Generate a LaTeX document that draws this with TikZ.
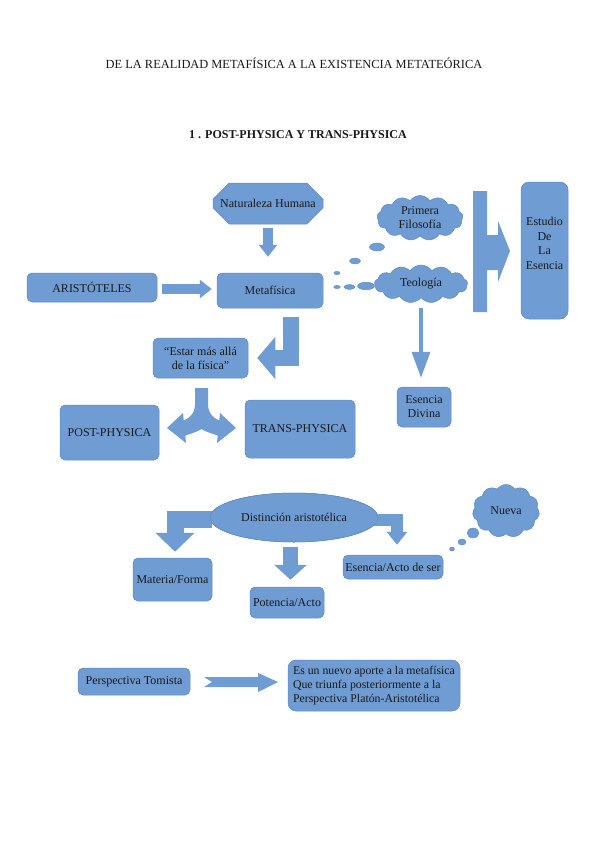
\documentclass[tikz,border=0pt]{standalone}
\usepackage{fontspec}
\setmainfont{Liberation Serif}
\usetikzlibrary{shapes.symbols,shapes.misc,shapes.geometric,arrows.meta,calc}
\definecolor{blu}{RGB}{111,156,211}
\definecolor{blub}{RGB}{92,138,198}
\definecolor{txt}{RGB}{25,25,25}
\begin{document}
\begin{tikzpicture}[x=1pt,y=-1pt,
  box/.style={rectangle, rounded corners=5pt, fill=blu, draw=blub, line width=0.5pt,
    inner sep=0pt, align=center, font=\fontsize{12}{14}\selectfont, text=txt},
  cloudn/.style={cloud, cloud puffs=13, cloud puff arc=110, cloud ignores aspect, fill=blu, draw=blub,
    line width=0.5pt, inner sep=0pt, align=center, font=\fontsize{12}{14}\selectfont, text=txt},
  bubble/.style={fill=blu, draw=blub, line width=0.4pt},
  barrow/.style={draw=blu, line join=miter},
  bshape/.style={fill=blu, draw=none},
  ttl/.style={font=\fontsize{12.4}{14}\selectfont, text=txt}
]
\fill[white] (0,0) rectangle (599,848);
\useasboundingbox (0,0) rectangle (599,848);

% titles
\node[ttl] (t1) at (294,63) {DE LA REALIDAD METAFÍSICA A LA EXISTENCIA METATEÓRICA};
\node[ttl,font=\fontsize{12}{14}\selectfont\bfseries] (t2) at (298,135) {1 . POST-PHYSICA Y TRANS-PHYSICA};

% upper nodes
\node[box, chamfered rectangle, chamfered rectangle xsep=10pt, chamfered rectangle ysep=12pt,
  rounded corners=0pt, minimum width=110pt, minimum height=41pt] (nat) at (268,203.5) {Naturaleza Humana};
\node[box, minimum width=106pt, minimum height=35pt] (meta) at (270,290.5) {Metafísica};
\node[box, minimum width=130pt, minimum height=29pt] (arist) at (92,287.5) {ARISTÓTELES};
\node[cloudn, minimum width=86pt, minimum height=45pt] (pf) at (420,218) {Primera\\Filosofía};
\node[cloudn, minimum width=93pt, minimum height=38pt] (teo) at (421,284) {Teología};
\node[box, rounded corners=8pt, minimum width=47pt, minimum height=137pt,
  font=\fontsize{12}{14.5}\selectfont] (est) at (544.5,250.5) {Estudio\\De\\La\\Esencia\\\mbox{}};
\node[box, minimum width=54pt, minimum height=40pt] (div) at (424,407) {Esencia\\Divina};
\node[box, minimum width=95pt, minimum height=40pt] (estar) at (200.5,358) {``Estar más allá\\de la física''};
\node[box, minimum width=99pt, minimum height=55pt] (post) at (109.5,432.5) {POST-PHYSICA};
\node[box, minimum width=110pt, minimum height=58pt] (trans) at (300,429) {TRANS-PHYSICA};

% thought bubbles (upper)
\draw[bubble] (337,287) ellipse [x radius=3.3pt, y radius=1.6pt];
\draw[bubble] (349.5,287) ellipse [x radius=5.5pt, y radius=2.5pt];
\draw[bubble] (366,286) ellipse [x radius=8.5pt, y radius=3.8pt];
\draw[bubble] (337,273) ellipse [x radius=3pt, y radius=1.7pt];
\draw[bubble] (355,261) ellipse [x radius=5.5pt, y radius=3pt];
\draw[bubble] (377,247) ellipse [x radius=7.5pt, y radius=4pt];

% straight block arrows
\draw[barrow, line width=10pt, -{Triangle[width=18pt,length=12pt]}, shorten <=4pt, shorten >=16pt]
  (nat.south) -- (nat.south |- meta.north);
\draw[barrow, line width=10pt, -{Triangle[width=18pt,length=12pt]}, shorten <=5pt, shorten >=5pt]
  ([yshift=-1.5pt]arist.east) -- ([yshift=-1.5pt]arist.east -| meta.west);
\draw[barrow, line width=3.5pt, -{Triangle[width=18pt,length=26pt]}, shorten <=10pt, shorten >=9pt]
  (teo.south) -- (teo.south |- div.north);

% big bar arrow towards Estudio
\fill[bshape] (473,191) -- (487,191) -- (487,235) -- (498,235) -- (498,221) -- (510,251)
  -- (498,282) -- (498,270) -- (487,270) -- (487,312) -- (473,312) -- cycle;

% bent arrow Metafisica -> Estar
\draw[barrow, line width=16pt, -{Triangle[width=41pt,length=18pt]}, shorten >=9pt]
  ($(meta.south)+(20.5,9)$) |- (estar.east);

% split arrow
\fill[bshape] (195,388) -- (208,388) -- (208,404) .. controls (208,413) and (213,418) .. (219.25,420.5)
  -- (220,413) -- (236,428) -- (217,443) -- (217.75,435.5)
  .. controls (210,433) and (204,431) .. (201.5,429)
  .. controls (199,431) and (193,433) .. (185.25,435.5)
  -- (186,443) -- (167,428) -- (183,413) -- (183.75,420.5)
  .. controls (190,418) and (195,413) .. (195,404) -- cycle;

% lower section
\node[box, ellipse, minimum width=168pt, minimum height=49pt] (dist) at (294,517.5) {Distinción aristotélica};
\node[box, minimum width=79pt, minimum height=43pt] (mat) at (172.5,579.5) {Materia/Forma};
\node[box, minimum width=74pt, minimum height=31pt] (pot) at (287,602.5) {Potencia/Acto};
\node[box, minimum width=100pt, minimum height=24pt] (esa) at (393,567) {Esencia/Acto de ser};
\node[cloudn, cloud puffs=11, minimum width=67pt, minimum height=53pt] (nue) at (506,511) {Nueva};
\draw[bubble] (473,533) ellipse [x radius=6pt, y radius=5pt];
\draw[bubble] (462,542) ellipse [x radius=4pt, y radius=3pt];
\draw[bubble] (452,549) ellipse [x radius=2.5pt, y radius=2pt];

\draw[barrow, line width=17pt, -{Triangle[width=38pt,length=19pt]}, shorten <=-2pt, shorten >=6pt]
  ([yshift=-1.5pt]dist.west) -| ([xshift=2.5pt]mat.north);
\draw[barrow, line width=12pt, -{Triangle[width=20pt,length=13pt]}, shorten <=-4pt, shorten >=10pt]
  ([yshift=-2pt]dist.east) -| ([xshift=4pt]esa.north);
\draw[barrow, line width=15pt, -{Triangle[width=32pt,length=15pt]}, shorten <=5pt, shorten >=7pt]
  ([xshift=-3.5pt]dist.south) -- ([xshift=3.5pt]pot.north);
% redraw ellipse on top of arrow starts
\node[box, ellipse, minimum width=168pt, minimum height=49pt] at (dist) {Distinción aristotélica};

% bottom row
\node[box, minimum width=112pt, minimum height=27pt] (tom) at (134,681.5) {Perspectiva Tomista};
\node[box, rounded corners=8pt, minimum width=172pt, minimum height=51pt, align=left,
  font=\fontsize{11.8}{14.4}\selectfont] (apo) at (374,685.5)
  {Es un nuevo aporte a la metafísica\\Que triunfa posteriormente a la\\Perspectiva Platón-Aristotélica};
\fill[bshape] (204,677) -- (258,677) -- (258,673) -- (278,682) -- (258,692) -- (258,687)
  -- (204,687) -- (212,682) -- cycle;
\end{tikzpicture}
\end{document}
